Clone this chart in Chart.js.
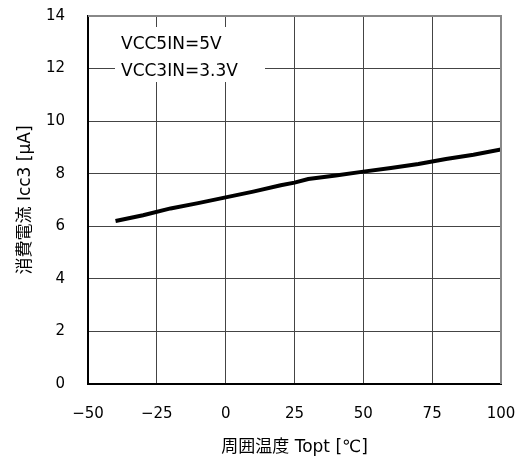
<!DOCTYPE html>
<html>
<head>
<meta charset="utf-8">
<script src="https://cdn.jsdelivr.net/npm/chart.js@4/dist/chart.umd.min.js"></script>
<style>
  body { margin: 0; background: #fff; }
</style>
</head>
<body>
<canvas id="c" width="527" height="462"></canvas>
<script>
// temperature (°C) vs supply current Icc3 (uA)
const temps = [-40, -30, -20, -10, 0, 10, 20, 25, 30, 40, 50, 60, 70, 80, 90, 100];
const icc3 = [6.2, 6.42, 6.68, 6.88, 7.1, 7.32, 7.56, 7.66, 7.8, 7.93, 8.08, 8.22, 8.37, 8.56, 8.72, 8.92];
const conditions = ['VCC5IN=5V', 'VCC3IN=3.3V'];

const FONT = 'DejaVu Sans, "Noto Sans CJK JP", sans-serif';

const points = temps.map((t, i) => ({ x: t, y: icc3[i] }));

// gray frame on top / right, like the original plot box
const framePlugin = {
  id: 'frame',
  afterDraw(chart) {
    const { ctx, chartArea: a } = chart;
    ctx.save();
    ctx.strokeStyle = '#888';
    ctx.lineWidth = 2;
    ctx.beginPath();
    ctx.moveTo(a.left, a.top);
    ctx.lineTo(a.right, a.top);
    ctx.lineTo(a.right, a.bottom);
    ctx.stroke();
    ctx.restore();
  }
};

// condition note in upper left, on a white patch over the grid
const notePlugin = {
  id: 'note',
  afterDatasetsDraw(chart) {
    const ctx = chart.ctx;
    ctx.save();
    ctx.fillStyle = '#fff';
    ctx.fillRect(115, 27, 150, 55);
    ctx.fillStyle = '#000';
    ctx.font = '17px ' + FONT;
    ctx.textBaseline = 'alphabetic';
    ctx.fillText(conditions[0], 121, 49);
    ctx.fillText(conditions[1], 121, 76);
    ctx.restore();
  }
};

new Chart(document.getElementById('c'), {
  type: 'scatter',
  data: {
    datasets: [{
      data: points,
      showLine: true,
      borderColor: '#000',
      borderWidth: 4,
      pointRadius: 0,
      tension: 0
    }]
  },
  options: {
    responsive: false,
    animation: false,
    devicePixelRatio: 1,
    layout: { padding: { left: 0, right: 26, top: 16, bottom: 0 } },
    plugins: { legend: { display: false }, tooltip: { enabled: false } },
    scales: {
      x: {
        type: 'linear',
        min: -50,
        max: 100,
        afterFit: s => { s.height = 78; },
        ticks: {
          stepSize: 25,
          padding: 0,
          color: '#000',
          font: { family: FONT, size: 15 },
          callback: v => String(v).replace('-', '\u2212')
        },
        grid: { color: '#444', lineWidth: 1, drawTicks: true, tickLength: 21, tickColor: 'rgba(0,0,0,0)' },
        border: { color: '#000', width: 2 },
        title: {
          display: true,
          text: '周囲温度 Topt [℃]',
          color: '#000',
          font: { family: FONT, size: 17 },
          padding: { top: 0, bottom: 4 }
        }
      },
      y: {
        min: 0,
        max: 14,
        afterFit: s => { s.width = 88; },
        ticks: {
          stepSize: 2,
          padding: 0,
          color: '#000',
          font: { family: FONT, size: 15 }
        },
        grid: { color: '#444', lineWidth: 1, drawTicks: true, tickLength: 23, tickColor: 'rgba(0,0,0,0)' },
        border: { color: '#000', width: 2 },
        title: {
          display: true,
          text: '消費電流 Icc3 [μA]',
          color: '#000',
          font: { family: FONT, size: 17 },
          padding: { top: 15, bottom: 0 }
        }
      }
    }
  },
  plugins: [notePlugin, framePlugin]
});
</script>
</body>
</html>
